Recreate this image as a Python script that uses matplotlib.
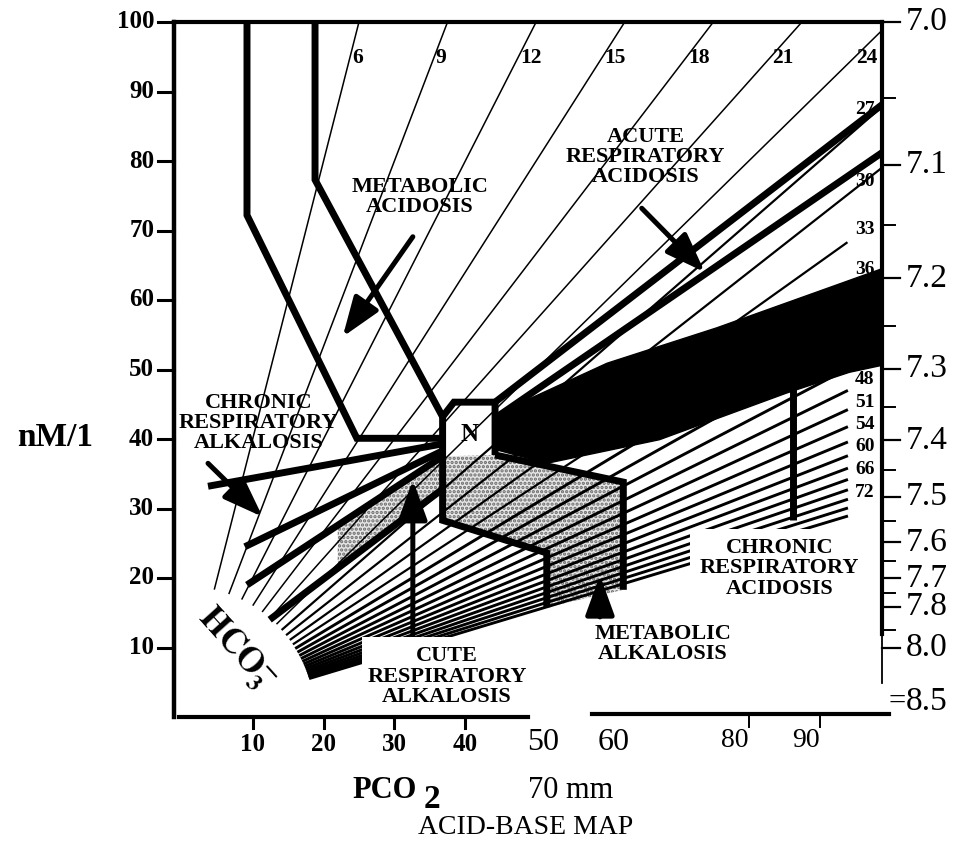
import numpy as np
import matplotlib
matplotlib.use("Agg")
import matplotlib.pyplot as plt
from matplotlib.patches import Polygon, Rectangle, FancyArrowPatch

SERIF = ["Liberation Serif", "DejaVu Serif"]

# ---- HCO3- isopleths (mEq/l); [H+] (nM/l) = 24 * PCO2 / HCO3 ----
hco3_lines = [6, 9, 12, 15, 18, 21, 24, 27, 30, 33, 36, 39, 42, 45,
              48, 51, 54, 57, 60, 63, 66, 69, 72, 75, 78]
top_labels = [6, 9, 12, 15, 18, 21, 24]
side_labels = [27, 30, 33, 36, 48, 51, 54, 60, 66, 72]

# ---- axis ticks ----
h_ticks = [10, 20, 30, 40, 50, 60, 70, 80, 90, 100]
pco2_bold_ticks = [10, 20, 30, 40]
pco2_plain_labels = [50, 60]
pco2_right_ticks = [80, 90]
ph_major = [7.0, 7.1, 7.2, 7.3, 7.4, 7.5, 7.6, 7.7, 7.8, 8.0]
ph_minor = [7.05, 7.15, 7.25, 7.35, 7.45, 7.55, 7.65, 7.75, 7.9]
ph_low = 8.5

# ---- zone boundaries (PCO2 mm Hg, [H+] nM/l) ----
met_acid_left = [(9.2, 100), (9.2, 72.2), (24.7, 40.1), (36.8, 40.1)]
met_acid_right = [(18.8, 100), (18.8, 77.3), (36.8, 43.2)]
normal_box = [(36.8, 43.2), (38.4, 45.3), (44.2, 45.3), (44.2, 37.7)]
met_alk_left = [(36.8, 43.2), (36.8, 28.3), (51.5, 23.6), (51.5, 15.8)]
met_alk_right = [(44.2, 37.7), (62.3, 33.8), (62.3, 18.3)]
acute_acid_hi = [(44.2, 45.3), (98.8, 88.1)]
acute_acid_lo = [(44.2, 43.0), (98.8, 81.2)]
chron_alk_hi = [(3.7, 33.2), (36.8, 39.3)]
chron_alk_lo = [(8.9, 24.5), (36.8, 38.3)]
acute_alk_hi = [(9.2, 19.0), (36.8, 37.5)]
acute_alk_lo = [(12.4, 14.0), (36.8, 32.8)]
chron_acid_stem = [(86.2, 47.3), (86.2, 28.3)]
chron_acid_band = [(44.2, 43.5), (60.0, 50.9), (75.5, 56.0), (98.8, 64.5),
                   (98.8, 50.6), (94.2, 49.6), (85.3, 46.6), (67.4, 39.9),
                   (51.5, 36.5), (44.2, 38.5)]
met_alk_zone = [(36.8, 37.5), (44.2, 37.7), (62.3, 33.8), (62.3, 18.3),
                (51.5, 15.8), (51.5, 23.6), (36.8, 28.3)]
acute_alk_zone = [(22.0, 27.6), (36.8, 37.5), (36.8, 32.8), (22.0, 21.5)]

# ---- zone arrows: (tail, head) ----
arrows = [((32.6, 69.1), (22.7, 54.7)),   # metabolic acidosis
          ((64.9, 73.2), (73.8, 64.0)),   # acute respiratory acidosis
          ((3.7, 36.5), (11.4, 28.8)),    # chronic respiratory alkalosis
          ((32.6, 11.8), (32.6, 34.1)),   # acute respiratory alkalosis
          ((59.0, 14.4), (59.0, 20.4))]   # metabolic alkalosis

XMIN, XMAX = -1.1, 98.8
YMIN, YMAX = 0.0, 100.0

fig = plt.figure(figsize=(9.59, 8.44), dpi=100)
ax = fig.add_axes([174 / 959, 127 / 844, 708 / 959, 695 / 844])
ax.set_xlim(XMIN, XMAX)
ax.set_ylim(YMIN, YMAX)
for s in ax.spines.values():
    s.set_visible(False)
ax.set_xticks([])
ax.set_yticks([])


def poly(pts, **kw):
    xs, ys = zip(*pts)
    ax.plot(xs, ys, solid_capstyle="butt", solid_joinstyle="miter", **kw)


# ---- isopleth fan ----
r0 = 19.0
for h in hco3_lines:
    s = 24.0 / h
    ux, uy = 1 / np.hypot(1, s), s / np.hypot(1, s)
    x0, y0 = r0 * ux, r0 * uy
    if h <= 24:
        x1 = YMAX / s
    elif h <= 30:
        x1 = XMAX
    else:
        x1 = 93.8
    y1 = s * x1
    lw = 1.1 if h <= 24 else (1.6 if h <= 36 else 2.1)
    ax.plot([x0, x1], [y0, y1], color="black", lw=lw, zorder=2)

for h in top_labels:
    xl = 94.8 * h / 24.0
    ax.text(xl + 0.3, 94.8, str(h), ha="left", va="center", fontsize=15.5,
            fontweight="bold", family=SERIF, zorder=6)

# side labels sit just under the end of their line, kept a line apart
label_gap = 3.2
prev_y = None
for h in side_labels:
    xl = 95.0
    yl = 24.0 * xl / h + (3.0 if h == 27 else 1.0)
    if prev_y is not None and prev_y - yl < label_gap:
        yl = prev_y - label_gap
    prev_y = yl
    ax.text(xl, yl, str(h), ha="left", va="center", fontsize=14,
            fontweight="bold", family=SERIF, zorder=6)

# ---- shaded zones ----
plt.rcParams["hatch.linewidth"] = 1.6
ax.add_patch(Polygon(chron_acid_band, closed=True, facecolor="black",
                     edgecolor="black", lw=1, zorder=3))
for zone in (met_alk_zone, acute_alk_zone):
    ax.add_patch(Polygon(zone, closed=True, facecolor="#e6e6e6",
                         edgecolor="#6a6a6a", hatch="....", lw=0, zorder=1))

# ---- thick zone boundaries ----
for pts in (met_acid_left, met_acid_right, normal_box, met_alk_left,
            met_alk_right, acute_acid_hi, acute_acid_lo, chron_alk_hi,
            chron_alk_lo, acute_alk_hi, acute_alk_lo, chron_acid_stem):
    poly(pts, color="black", lw=5.0, zorder=4)

ax.text(40.6, 40.6, "N", ha="center", va="center", fontsize=18,
        fontweight="bold", family=SERIF, zorder=6)

for tail, head in arrows:
    ax.add_patch(FancyArrowPatch(tail, head,
                 arrowstyle="-|>,head_length=1.1,head_width=0.4",
                 mutation_scale=22, lw=3.6, color="black", zorder=5,
                 shrinkA=0, shrinkB=0))

# ---- zone names ----
txt = dict(fontsize=16, fontweight="bold", family=SERIF, ha="center",
           va="center", linespacing=1.02, zorder=8)
ax.text(33.6, 74.8, "METABOLIC\nACIDOSIS", **txt)
ax.text(65.4, 80.6, "ACUTE\nRESPIRATORY\nACIDOSIS", **txt)
ax.text(10.8, 42.3, "CHRONIC\nRESPIRATORY\nALKALOSIS", **txt)

# labelled panels pasted over the lower part of the map
panels = [((25.4, 0.9), 24.5, 10.6, (37.4, 5.8),
           "CUTE\nRESPIRATORY\nALKALOSIS"),
          ((57.0, 7.1), 26.6, 6.9, (67.9, 10.5), "METABOLIC\nALKALOSIS"),
          ((71.7, 15.4), 25.4, 11.6, (84.3, 21.4),
           "CHRONIC\nRESPIRATORY\nACIDOSIS")]
for (x0, y0), w, hgt, (tx, ty), label in panels:
    box = Rectangle((x0, y0), w, hgt, facecolor="white", edgecolor="none",
                    zorder=7)
    ax.add_patch(box)
    t = ax.text(tx, ty, label, **txt)
    t.set_clip_path(box)

ax.text(7.6, 9.8, r"$\mathbf{HCO}_{\mathbf{3}}^{\mathbf{-}}$", rotation=-48,
        ha="center", va="center", fontsize=25, zorder=8,
        math_fontfamily="stix")

# ---- frame ----
frame = dict(color="black", clip_on=False, zorder=9,
             solid_capstyle="projecting")
ax.plot([XMIN, XMIN], [YMIN, YMAX], lw=3.2, **frame)
ax.plot([XMIN, XMAX], [YMAX, YMAX], lw=3.0, **frame)
ax.plot([XMAX, XMAX], [12.0, YMAX], lw=3.0, **frame)
ax.plot([XMAX, XMAX], [4.9, 12.0], lw=1.3, **frame)
ax.plot([-0.4, 48.9], [0, 0], lw=3.0, **frame)
ax.plot([57.9, 99.8], [0.5, 0.5], lw=3.0, **frame)

# left scale (nM/l)
for v in h_ticks:
    ax.plot([-3.4, XMIN], [v, v], lw=2.2, color="black", clip_on=False)
    ax.text(-3.9, v, str(v), ha="right", va="center", fontsize=18,
            fontweight="bold", family=SERIF)

# bottom scale (PCO2)
for v in pco2_bold_ticks:
    ax.plot([v, v], [0, -1.6], lw=2.2, color="black", clip_on=False)
    ax.text(v, -4.0, str(v), ha="center", va="center", fontsize=18,
            fontweight="bold", family=SERIF)
for v in pco2_plain_labels:
    ax.text(v + 1.0, -3.6, str(v), ha="center", va="center", fontsize=23,
            family=SERIF)
for v in pco2_right_ticks:
    ax.plot([v, v], [0.5, -1.5], lw=1.4, color="black", clip_on=False)
    ax.text(v - 2.0, -3.4, str(v), ha="center", va="center", fontsize=20,
            family=SERIF)

# right scale (pH); [H+] = 10**(9 - pH) nM/l
for ph in ph_major:
    hv = 10 ** (9 - ph)
    ax.plot([XMAX, XMAX + 2.6], [hv, hv], lw=1.6, color="black",
            clip_on=False)
    ax.text(XMAX + 3.4, hv, f"{ph:.1f}", ha="left", va="center",
            fontsize=24, family=SERIF)
for ph in ph_minor:
    hv = 10 ** (9 - ph)
    ax.plot([XMAX, XMAX + 1.9], [hv, hv], lw=1.4, color="black",
            clip_on=False)
hv = 10 ** (9 - ph_low)
ax.text(XMAX + 3.4, hv - 1.0, f"{ph_low:.1f}", ha="left", va="center",
        fontsize=24, family=SERIF)
ax.text(XMAX + 3.3, hv - 1.0, "=", ha="right", va="center", fontsize=22,
        family=SERIF)

# axis titles
fig.text(55 / 959, 1 - 438 / 844, "nM/1", ha="center", va="center",
         fontsize=24, fontweight="bold", family=SERIF)
fig.text(385 / 959, 1 - 790 / 844, "PCO", ha="center", va="center",
         fontsize=22, fontweight="bold", family=SERIF)
fig.text(432 / 959, 1 - 799 / 844, "2", ha="center", va="center",
         fontsize=24, fontweight="bold", family=SERIF)
fig.text(528 / 959, 1 - 791 / 844, "70 mm", ha="left", va="center",
         fontsize=22, family=SERIF)
fig.text(526 / 959, 1 - 828 / 844, "ACID-BASE MAP", ha="center",
         va="center", fontsize=20, family=SERIF)

fig.savefig("out.png", dpi=100, facecolor="white")
